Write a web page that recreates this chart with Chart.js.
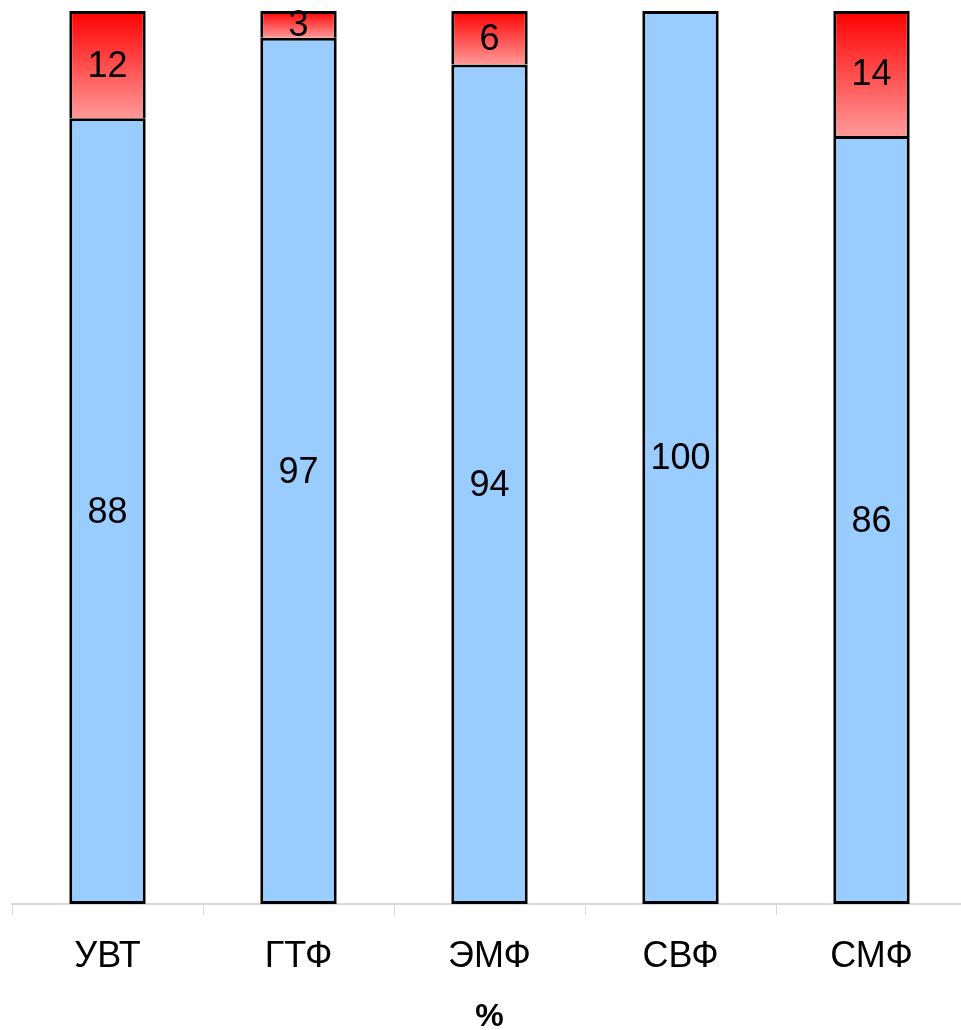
<!DOCTYPE html>
<html>
<head>
<meta charset="utf-8">
<script src="https://cdn.jsdelivr.net/npm/chart.js@4"></script>
<style>
  html, body { margin: 0; padding: 0; background: #fff; overflow: hidden; }
  #wrap { position: relative; width: 967px; height: 1030px; }
</style>
</head>
<body>
<div id="wrap"><canvas id="chart"></canvas></div>
<script>
'use strict';

// values (percent)
const categories = ['УВТ', 'ГТФ', 'ЭМФ', 'СВФ', 'СМФ'];
const blueValues = [88, 97, 94, 100, 86];
const redValues  = [12, 3, 6, 0, 14];
const axisTitle  = '%';

const FONT = '"Liberation Sans", Arial, sans-serif';

function redGradient(ctx) {
  const chart = ctx.chart;
  if (!chart.chartArea) return '#ff6666';
  const y = chart.scales.y;
  const i = ctx.dataIndex;
  const top = y.getPixelForValue(blueValues[i] + redValues[i]);
  const bot = y.getPixelForValue(blueValues[i]);
  if (!isFinite(top) || !isFinite(bot) || bot - top < 1) return '#ff6666';
  const g = chart.ctx.createLinearGradient(0, top, 0, bot);
  g.addColorStop(0, '#ff0000');
  g.addColorStop(1, '#ff9999');
  return g;
}

// numbers in the middle of each segment
const segLabels = {
  id: 'segLabels',
  afterDatasetsDraw(chart) {
    const c = chart.ctx;
    c.save();
    c.font = '36px ' + FONT;
    c.fillStyle = '#000';
    c.textAlign = 'center';
    c.textBaseline = 'middle';
    chart.data.datasets.forEach((ds, di) => {
      chart.getDatasetMeta(di).data.forEach((bar, i) => {
        const v = ds.data[i];
        if (!v) return;
        const mid = (bar.y + bar.base) / 2;
        c.fillText(String(v), bar.x, mid + 2);
      });
    });
    c.restore();
  }
};

new Chart(document.getElementById('chart'), {
  type: 'bar',
  data: {
    labels: categories,
    datasets: [
      { label: 'blue', data: blueValues, backgroundColor: '#99ccff',
        borderColor: '#000', borderWidth: 3, borderSkipped: false },
      { label: 'red', data: redValues, backgroundColor: redGradient,
        borderColor: '#000', borderWidth: 3, borderSkipped: 'start' }
    ]
  },
  options: {
    responsive: true,
    maintainAspectRatio: false,
    animation: false,
    layout: { padding: { top: 11, left: 12, right: 0, bottom: 0 } },
    datasets: { bar: { categoryPercentage: 1, barPercentage: 0.4 } },
    plugins: { legend: { display: false }, tooltip: { enabled: false } },
    scales: {
      x: {
        stacked: true,
        afterFit: s => { s.height = 126; },
        grid: { offset: true, drawOnChartArea: false, drawTicks: true,
                tickLength: 11, color: '#d9d9d9', lineWidth: 1 },
        border: { color: '#d9d9d9', width: 2 },
        ticks: { color: '#000', font: { family: FONT, size: 36 }, padding: 20 },
        title: { display: true, text: axisTitle, color: '#000',
                 font: { family: FONT, size: 32, weight: 'bold' },
                 padding: { top: 10, bottom: -6 } }
      },
      y: {
        stacked: true, display: false, min: 0, max: 100
      }
    }
  },
  plugins: [segLabels]
});
</script>
</body>
</html>
